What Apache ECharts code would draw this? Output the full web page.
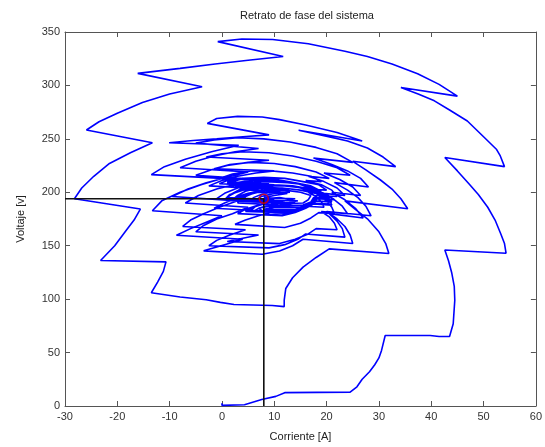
<!DOCTYPE html>
<html>
<head>
<meta charset="utf-8">
<script src="https://cdn.jsdelivr.net/npm/echarts@6/dist/echarts.min.js"></script>
<style>
  html, body { margin: 0; padding: 0; background: #fff; }
  #chart { width: 545px; height: 447px; }
</style>
</head>
<body>
<div id="chart"></div>
<script>
// Phase portrait: inductor current [A] vs capacitor voltage [V]
const trajectory = [
  // first (outer) turn
  [0,2.5],[0,0.6],[4.3,1.2],[7.6,6],[10.3,9],[12,12.5],[24.5,13],[25.8,18],[26.8,25],[28.2,32],
  [29.2,38.6],[30,45],[30.5,52],[31.2,66],[39.8,66],[41.5,65],[43.5,65],[44.2,77],[44.5,99],
  [44.4,112],[43.9,125],[43.3,136],[42.6,146],[54.3,143],[54,152],[53.3,161],[52.2,174],[50.8,186],
  [49,198],[47.2,208],[45,220],[42.6,232.6],[54,224],[53.2,234],[52.5,240],[50,252],[46.9,266.7],
  [43.5,277],[40.6,285.6],[37.5,292],[34.2,298],[45,290],[41.5,301],[37.4,311],[32.5,320],[27.8,327],
  [23.5,332],[16.5,339],[9.7,343],[3.8,343.5],[-0.8,341],[11.7,327],[5,323.5],[-1.3,320],[-8,316],
  [-16.1,311.3],[-3.8,298.8],[-10,292],[-15.2,284],[-20,274],[-23.5,266],[-25.9,258.3],[-13.3,246.4],
  [-17.5,237],[-21.5,227],[-24.5,215],[-26.8,204],[-28.2,194],[-15.6,184.3],[-16.8,174],[-18.5,163],
  [-20.5,150],[-23.2,136.2],[-10.7,134.9],[-11.2,126],[-12.3,116],[-13.5,106],[-8,102],
  [-3,99.5],[-0.3,97],[2.3,95],[9.6,94],[11.9,93],[11.9,99],
  // second turn
  [12.2,110],[13.5,120],[15.5,130],[18,139],[20.5,147],[31.9,142.7],[31.3,152],[30,163],[27.8,175.2],
  [25.5,184],[23.5,192],[35.5,184.6],[34.2,194],[32.5,203],[30.3,211.5],[27.5,221],[25,229],[33.2,224],
  [30.8,233],[27.8,241.4],[24,248],[19.5,253],[14.65,258],[26.8,248],[22,256],[16,263],[11,268],
  [7.7,270.5],[3,271],[-1,269],[-2.8,264.5],[9,253.7],[4,252],[-1,250],[-5.5,248.5],[-10.1,246.4],
  [3.2,244],[-2,238],[-7,231],[-11,224],[-13.5,216.5],[0,213],[-4,207],[-8,200],[-11.5,192],
  [-13.3,182.7],[0,178],[-3,172],[-6,166],[-8.7,159.8],[4,156],[0.5,151],[-3.5,145.2],[7.7,142],
  // third turn
  [11,145],[13.5,150],[15.5,156],[25,152],[24.5,160],[23.5,168],[22,175],[20,182],[28.5,178],
  [27.5,187],[26,195],[24,202],[21.5,209],[28,205],[26.5,213],[24,220],[21,226],[17.5,232],[25,228],
  [22,236],[18,242],[13,247],[8,250],[3,251],[-1.5,249],[-5,246],[7,241],[2.5,238],[-1.5,234],
  [-5,229],[-8,223],[5,219],[1,214],[-3,209],[-6.5,203],[-9.5,196],[3,192],[-0.5,186],[-3.5,180],
  [-6,174],[-7.5,168],[4.5,165],[1.5,160],[-1,155],[-2.5,150],[9,148],
  // fourth turn
  [12,151],[14.5,156],[16,161],[23.5,158],[23,166],[22,173],[20.5,180],[27,176],[25.5,185],[23.5,193],
  [21,200],[26.5,197],[25,205],[22.5,212],[19.5,218],[24.5,216],[22,223],[18,229],[13.5,234],[9,237],
  [4,238],[0,236],[-3,233],[9,230],[5,228],[1,225],[-2,221],[-5,216],[7,212],[3,208],[-1,203],
  [-4.5,197],[-7,190],[5,186],[2,180],[-1,175],[-3.5,169],[-5,163],[7,160],[4,157],[1,154],[11,152],
  // settling turns around the operating point
  [14,156],[16.5,161],[18,166],[22,165],[21.5,171],[20.5,177],[19,182],[24,180],[23,187],[21.5,193],
  [19.5,199],[23.5,197],[22,204],[19.5,210],[16.5,215],[20.5,213],[18,219],[14,224],[10,227],[5.5,228],
  [1.5,226],[-1.5,222],[10,220],[6.5,218],[3,215],[0,211],[-2.5,206],[9,203],[6,199],[3,195],
  [0.5,190],[-1.5,185],[10,182],[7,178],[4.5,174],[2.5,170],[12,167],[15,171],[17,176],[18.5,181],
  [21.5,180],[21,186],[20,192],[18.5,197],[22,196],[21,202],[19,207],[16,211],[19,210],[17,215],
  [13.5,218],[9.5,220],[5.5,220],[2,217],[-0.5,213],[9,211],[6,208],[3,204],[0.5,199],[-1,194],
  [9.5,192],[7,188],[4.5,184],[3,180],[11.5,178],[14,181],[16,185],[17.5,189],[21,188],[20.5,193],
  [19,198],[16.5,203],[20,202],[18.5,207],[15.5,210],[12,213],[8,214],[4,213],[1,210],[10,207],
  [7,205],[4,202],[1.5,198],[0.5,193],[10.5,192],[8,189],[6,186],[4.5,183],[13,181],[15.5,184],
  [17,188],[18,192],[20.5,191],[19.5,196],[17.5,200],[15,204],[18,203],[16,207],[12.5,209],[8.5,210],
  [5,209],[2.5,206],[11,204],[8,202],[5,199],[3,196],[2,192],[11,190],[9,187],[7,185],[9,179],
  // dense core
  [12,180],[14.5,183],[16,187],[19.5,186],[19,191],[18,196],[16.5,200],[19,199],[17.5,204],[15,208],
  [11.5,211],[8,213],[4,213],[1,211],[-0.5,208],[8.5,206],[5.5,204],[3,201],[1.5,197],[0.5,193],
  [9.5,191],[7,188],[5.5,185],[4.5,182],[12,181],[14,183],[15.5,186],[17,190],[20.5,189],[20,194],
  [18.5,198],[16.5,202],[19,201],[17,206],[14,209],[10.5,212],[7,213],[3.5,212],[1,209],[9,208],
  [6,206],[3.5,203],[2,199],[1,195],[10,193],[8,190],[6.5,187],[5.5,183],[13,182],[15,184],
  [16.5,188],[17.5,192],[21,191],[20,196],[18,200],[15,204],[18,203],[16,207],[12.5,210],[9,211],
  [5,211],[2,208],[10,206],[7,204],[4.5,201],[3,197],[2,193],[11,191],[9,188],[7,185],
  [6,182],[13.5,183],[15.5,186],[17,190],[18,194],[21.5,193],[20,198],[17.5,202],[14,205],[17,204],
  [14.5,208],[11,210],[7,210],[3.5,208],[1.5,205],[10,203],[7.5,201],[5,198],[3.5,194],[3,190],
  [12,188],[10,186],[8,184],[14,184],[16,187],[17.5,191],[18.5,195],[21,195],[19.5,199],[17,203],
  [13.5,206],[10,207],[6,207],[3,205],[11.5,204],[8.5,202],[6,199],[4.5,196],[4,192],[13,190],
  [11,188],[9,186],[15,186],[16.5,189],[17.5,193],[18,197],[20,197],[18.5,201],[15.5,204],[12,206],
  [8.5,206],[5,204],[13,203],[10,201],[7.5,198],[6,195],[5.5,191],[14,190],[12,188],[10,187],
  [15.5,188],[17,191],[17.5,195],[19.5,195],[18,199],[15,202],[11.5,204],[8,204],[5.5,202],[13,200],
  [10,199],[7.5,196],[6.5,193],[14.5,192],[12.5,190],[11,189],[15.5,190],[16.5,193],[17,197],[15,200],
  [12,202],[8.5,202],[6.5,200],[12.5,199],[10,197],[8,195],[14,194],[12,192],[10,191],[13.5,193],
  [11,195],[8,194]
];

// Operating point and its guide lines
const opCurrent = 8;
const opVoltage = 194;

const xTicks = { min: -30, max: 60, step: 10 };
const yTicks = { min: 0, max: 350, step: 50 };

const chart = echarts.init(document.getElementById('chart'));

const axisColor = '#555';
const labelColor = '#333';
const fontFamily = 'Liberation Sans, Arial, sans-serif';

function frameAxis(extra) {
  return Object.assign({
    type: 'value',
    axisLine: { show: true, onZero: false, lineStyle: { color: axisColor, width: 1 } },
    axisTick: { show: true, inside: true, length: 5, lineStyle: { color: axisColor } },
    splitLine: { show: false },
    axisLabel: { show: false }
  }, extra);
}

chart.setOption({
  animation: false,
  backgroundColor: '#fff',
  title: {
    text: 'Retrato de fase del sistema',
    left: 302, top: 5, textAlign: 'center',
    textStyle: { fontSize: 11, fontWeight: 'normal', color: '#222', fontFamily: fontFamily }
  },
  grid: { left: 65, right: 5, top: 32, bottom: 41 },
  xAxis: [
    frameAxis({
      position: 'bottom', min: xTicks.min, max: xTicks.max, interval: xTicks.step,
      name: 'Corriente [A]', nameLocation: 'middle', nameGap: 25,
      nameTextStyle: { fontSize: 11, color: '#222', fontFamily: fontFamily },
      axisLabel: { show: true, margin: 5, fontSize: 11, color: labelColor, fontFamily: fontFamily }
    }),
    frameAxis({ position: 'top', min: xTicks.min, max: xTicks.max, interval: xTicks.step })
  ],
  yAxis: [
    frameAxis({
      position: 'left', min: yTicks.min, max: yTicks.max, interval: yTicks.step,
      name: 'Voltaje [v]', nameLocation: 'middle', nameGap: 39,
      nameTextStyle: { fontSize: 11, color: '#222', fontFamily: fontFamily },
      axisLabel: { show: true, margin: 5, fontSize: 11, color: labelColor, fontFamily: fontFamily }
    }),
    frameAxis({ position: 'right', min: yTicks.min, max: yTicks.max, interval: yTicks.step })
  ],
  series: [
    {
      type: 'line',
      data: trajectory,
      showSymbol: false,
      symbol: 'none',
      lineStyle: { color: '#0000ff', width: 1.6 },
      z: 2
    },
    {
      type: 'line',
      data: [[xTicks.min, opVoltage], [opCurrent, opVoltage], [opCurrent, yTicks.min]],
      showSymbol: false,
      symbol: 'none',
      lineStyle: { color: '#111', width: 1.6 },
      z: 3
    },
    {
      type: 'scatter',
      data: [[opCurrent, opVoltage]],
      symbol: 'circle',
      symbolSize: 9,
      itemStyle: { color: 'rgba(0,0,0,0)', borderColor: '#e00000', borderWidth: 1.5 },
      z: 4
    }
  ]
});
</script>
</body>
</html>
